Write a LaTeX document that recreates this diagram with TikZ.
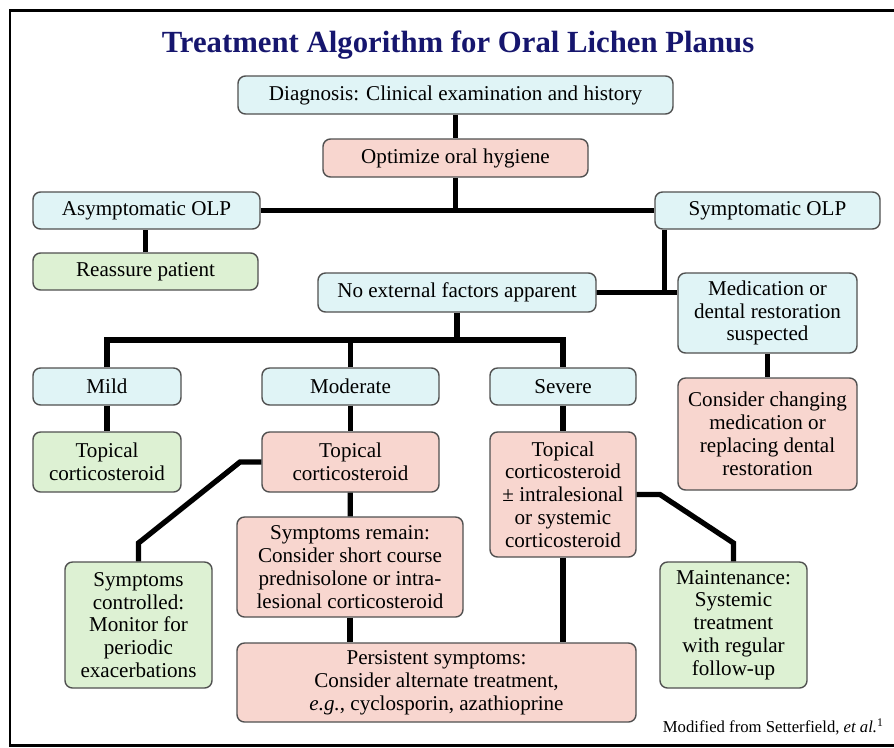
\documentclass[tikz,border=0pt]{standalone}
\usepackage{fontspec}
\setmainfont{Liberation Serif}
\usepackage{tikz}
\usetikzlibrary{calc}
\definecolor{titleblue}{HTML}{16166E}
\definecolor{boxblue}{HTML}{E0F4F6}
\definecolor{boxpink}{HTML}{F8D6CF}
\definecolor{boxgreen}{HTML}{DDF1D3}
\definecolor{boxline}{HTML}{505050}

\begin{document}
\begin{tikzpicture}[
	box/.style={draw=boxline, line width=0.8pt, rounded corners=0.15cm, inner sep=0pt,
		align=center, font=\fontsize{12}{13}\selectfont},
	bluebox/.style={box, fill=boxblue},
	pinkbox/.style={box, fill=boxpink},
	greenbox/.style={box, fill=boxgreen},
	link/.style={line width=3pt}]
	%\draw[help lines] (0,0) grid (18,-15);
	\useasboundingbox (0,0) rectangle (17.88,-14.94);
	\draw[line width=1.7pt] (17.9,-0.2) -- (0.2,-0.2) -- (0.2,-14.9) -- (17.9,-14.9);
	\node (title) at (9.16,-0.9) [font=\fontsize{17.5}{20}\selectfont\bfseries, text=titleblue]
		{Treatment Algorithm for Oral Lichen Planus};

	\node (diag) at (9.11,-1.9) [bluebox, minimum width=8.7cm, minimum height=0.76cm]
		{Diagnosis: Clinical examination and history};
	\node (hyg) at (9.11,-3.16) [pinkbox, minimum width=5.3cm, minimum height=0.76cm]
		{Optimize oral hygiene};
	\node (asym) at (2.93,-4.21) [bluebox, minimum width=4.54cm, minimum height=0.74cm]
		{Asymptomatic OLP};
	\node (sym) at (15.35,-4.21) [bluebox, minimum width=4.5cm, minimum height=0.74cm]
		{Symptomatic OLP};
	\node (reas) at (2.91,-5.43) [greenbox, minimum width=4.5cm, minimum height=0.74cm]
		{Reassure patient};
	\node (noext) at (9.14,-5.85) [bluebox, minimum width=5.56cm, minimum height=0.78cm]
		{No external factors apparent};
	\node (med) at (15.35,-6.26) [bluebox, minimum width=3.58cm, minimum height=1.6cm]
		{Medication or\\dental restoration\\suspected};
	\node (change) at (15.35,-8.68) [pinkbox, minimum width=3.58cm, minimum height=2.24cm]
		{Consider changing\\medication or\\replacing dental\\restoration};

	\node (mild) at (2.14,-7.73) [bluebox, minimum width=2.96cm, minimum height=0.74cm] {Mild};
	\node (mod) at (7.01,-7.73) [bluebox, minimum width=3.54cm, minimum height=0.74cm] {Moderate};
	\node (sev) at (11.26,-7.73) [bluebox, minimum width=2.92cm, minimum height=0.74cm] {Severe};

	\node (topmild) at (2.14,-9.24) [greenbox, minimum width=2.96cm, minimum height=1.2cm]
		{Topical\\corticosteroid};
	\node (topmod) at (7.01,-9.24) [pinkbox, minimum width=3.54cm, minimum height=1.2cm]
		{Topical\\corticosteroid};
	\node (topsev) at (11.26,-9.89) [pinkbox, minimum width=2.92cm, minimum height=2.5cm]
		{Topical\\corticosteroid\\± intralesional\\or systemic\\corticosteroid};
	\node (remain) at (7.0,-11.34) [pinkbox, minimum width=4.52cm, minimum height=2cm]
		{Symptoms remain:\\Consider short course\\prednisolone or intra-\\lesional corticosteroid};
	\node (ctrl) at (2.77,-12.5) [greenbox, minimum width=2.94cm, minimum height=2.52cm]
		{Symptoms\\controlled:\\Monitor for\\periodic\\exacerbations};
	\node (maint) at (14.67,-12.5) [greenbox, minimum width=2.94cm, minimum height=2.52cm]
		{Maintenance:\\Systemic\\treatment\\with regular\\follow-up};
	\node (persist) at (8.73,-13.65) [pinkbox, minimum width=7.98cm, minimum height=1.58cm]
		{Persistent symptoms:\\Consider alternate treatment,\\\textit{e.g.}, cyclosporin, azathioprine};
	\node (note) at (17.8,-14.54) [anchor=east, font=\fontsize{9.5}{11}\selectfont]
		{Modified from Setterfield, \textit{et al.}\textsuperscript{1}};

	% top of the tree
	\coordinate (symdrop) at ($(sym.south west)+(0.2,0)$);
	\coordinate (split) at (9.14,-6.8);
	\draw[link] (diag) -- (hyg);
	\draw[link] (asym) -- (sym);
	\draw[link] (hyg.south) -- (hyg.south |- asym.east);
	\draw[link] (reas.north) -- (reas.north |- asym.south);
	\draw[link] (symdrop) |- (noext.east) -- (noext.east -| med.west);
	\draw[link] (med) -- (change);

	% severity
	\draw[link] (noext.south) -- (split);
	\draw[link] (mild.north) |- (split) -| (sev.north);
	\draw[link] (mod.north) -- (mod.north |- split);
	\draw[link] (mild) -- (topmild);
	\draw[link] (mod) -- (topmod);
	\draw[link] (sev) -- (topsev);

	% treatment steps
	\draw[link] (topmod.west) -- (4.8,-9.24) -- (2.77,-10.86) -- (ctrl.north);
	\draw[link] (topsev.east) -- (13.2,-9.89) -- (14.67,-10.86) -- (maint.north);
	\draw[link] (topmod) -- (remain);
	\draw[link] (remain.south) -- (remain.south |- persist.north);
	\draw[link] (topsev.south) -- (topsev.south |- persist.north);
\end{tikzpicture}
\end{document}
